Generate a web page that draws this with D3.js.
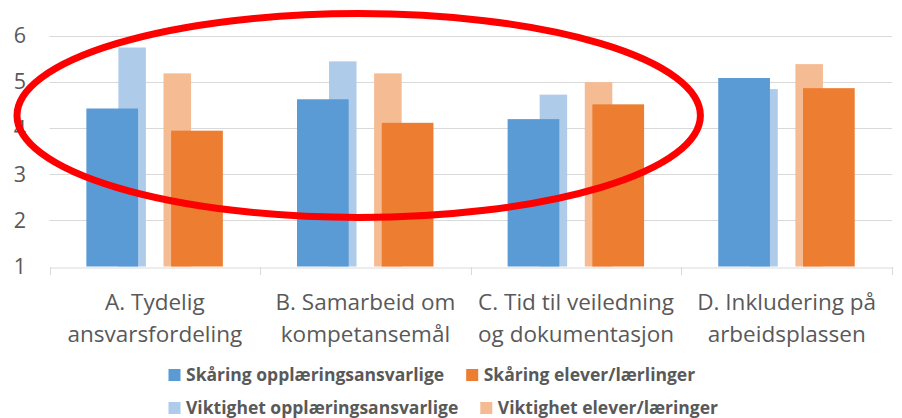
<!DOCTYPE html>
<html>
<head>
<meta charset="utf-8">
<script src="https://cdn.jsdelivr.net/npm/d3@7"></script>
<style>
  html, body { margin: 0; padding: 0; background: #fff; }
  svg { display: block; }
  text { font-family: "Open Sans", "DejaVu Sans", sans-serif; }
</style>
</head>
<body>
<svg id="chart" width="902" height="418"></svg>
<script>
// ---- data ----
const categories = ["A. Tydelig ansvarsfordeling", "B. Samarbeid om kompetansemål", "C. Tid til veiledning og dokumentasjon", "D. Inkludering på arbeidsplassen"];
const categoryLines = [["A. Tydelig", "ansvarsfordeling"], ["B. Samarbeid om", "kompetansemål"], ["C. Tid til veiledning", "og dokumentasjon"], ["D. Inkludering på", "arbeidsplassen"]];
const skaringOpplaering = [4.42, 4.62, 4.19, 5.08];
const skaringElever = [3.94, 4.11, 4.51, 4.86];
const viktighetOpplaering = [5.74, 5.44, 4.72, 4.84];
const viktighetElever = [5.18, 5.18, 4.99, 5.38];
const yTicks = [1, 2, 3, 4, 5, 6];
const seriesNames = ["Skåring opplæringsansvarlige", "Skåring elever/lærlinger", "Viktighet opplæringsansvarlige", "Viktighet elever/læringer"];
const seriesColors = ["#5B9BD5", "#ED7D31", "#AECCEA", "#F5BB93"];

// ---- layout ----
const svg = d3.select("#chart");
const plot = { left: 49.5, right: 892, top: 35.5, bottom: 266.5 };

const x = d3.scaleBand().domain(categories).range([plot.left, plot.right]).padding(0);
const y = d3.scaleLinear().domain([1, 6]).range([plot.bottom, plot.top]);
const bw = x.bandwidth();

// inner scales: primary (wide) and secondary (narrow) clusters
const primary = d3.scaleBand().domain([0, 1]).range([-0.325 * bw, 0.323 * bw]).paddingInner(0.39).paddingOuter(0);
const secondary = d3.scaleBand().domain([0, 1]).range([-0.173 * bw, 0.172 * bw]).paddingInner(0.39).paddingOuter(0);

// gridlines
svg.append("g").selectAll("line").data(yTicks.filter(d => d > 1)).join("line")
  .attr("x1", plot.left).attr("x2", plot.right)
  .attr("y1", d => Math.round(y(d)) + 0.5).attr("y2", d => Math.round(y(d)) + 0.5)
  .attr("stroke", "#D9D9D9").attr("stroke-width", 1);

// y labels
svg.append("g").selectAll("text").data(yTicks).join("text")
  .attr("x", 26).attr("y", d => y(d)).attr("dy", "0.36em")
  .attr("text-anchor", "end").attr("font-size", 21.5).attr("fill", "#595959")
  .text(d => d);

const center = c => x(c) + bw / 2;

function drawBars(values, color, inner, idx) {
  svg.append("g").selectAll("rect").data(values).join("rect")
    .attr("x", (d, i) => center(categories[i]) + inner(idx))
    .attr("width", inner.bandwidth())
    .attr("y", d => y(d))
    .attr("height", d => y(1) - y(d))
    .attr("fill", color);
}
// secondary behind, primary on top
drawBars(viktighetOpplaering, seriesColors[2], secondary, 0);
drawBars(viktighetElever, seriesColors[3], secondary, 1);
drawBars(skaringOpplaering, seriesColors[0], primary, 0);
drawBars(skaringElever, seriesColors[1], primary, 1);

// x axis line and ticks
const xAxis = d3.axisBottom(x).tickSize(0).tickFormat("");
const axisG = svg.append("g").attr("transform", `translate(0,${Math.round(y(1)) + 0.5})`).call(xAxis);
axisG.select(".domain").attr("stroke", "#D9D9D9");
const bounds = categories.map(c => x(c)).concat([plot.right]);
svg.append("g").selectAll("line").data(bounds).join("line")
  .attr("x1", d => Math.round(d) + 0.5).attr("x2", d => Math.round(d) + 0.5)
  .attr("y1", Math.round(y(1))).attr("y2", Math.round(y(1)) + 8)
  .attr("stroke", "#D9D9D9");

// category labels
const lab = svg.append("g").selectAll("text").data(categoryLines).join("text")
  .attr("text-anchor", "middle").attr("font-size", 22.5).attr("fill", "#595959")
  .attr("x", (d, i) => center(categories[i]));
lab.selectAll("tspan").data(d => d).join("tspan")
  .attr("x", function () { return this.parentNode.getAttribute("x"); })
  .attr("y", (d, j) => 309.5 + j * 32)
  .text(d => d);

// legend (flow layout, two rows)
const legendRows = [[0, 1], [2, 3]];
const legendStart = 168.5;
const legendRowY = [375, 408];
const legend = svg.append("g");
legendRows.forEach((row, r) => {
  let cx = legendStart;
  row.forEach(si => {
    legend.append("rect").attr("x", cx).attr("y", legendRowY[r] - 6).attr("width", 12).attr("height", 12)
      .attr("fill", seriesColors[si]);
    const t = legend.append("text").attr("x", cx + 17.5).attr("y", legendRowY[r]).attr("dy", "0.36em")
      .attr("font-size", 17.5).attr("font-weight", "bold").attr("fill", "#595959")
      .text(seriesNames[si]);
    cx = cx + 17.5 + t.node().getComputedTextLength() + 22;
  });
});

// red annotation ellipse
svg.append("ellipse")
  .attr("cx", 358.7).attr("cy", 115.5).attr("rx", 341.7).attr("ry", 102)
  .attr("fill", "none").attr("stroke", "#FF0000").attr("stroke-width", 7);
</script>
</body>
</html>
